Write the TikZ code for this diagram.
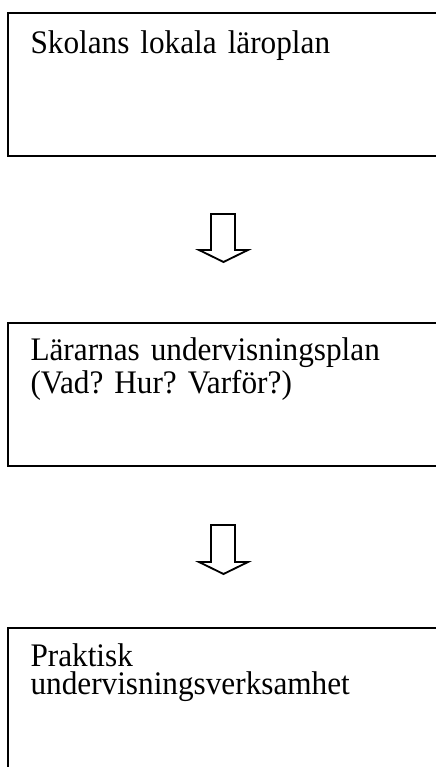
\documentclass[tikz,border=0pt]{standalone}
\usepackage{fontspec}
\setmainfont{Liberation Serif}[FakeStretch=0.95]
\frenchspacing
\lineskiplimit=-20pt\relax
\begin{document}
\begin{tikzpicture}[x=0.38pt,y=-0.38pt,
  box/.style={draw, line width=0.7pt, anchor=north west, inner sep=0pt, minimum width=172pt},
  txt/.style={anchor=base west, inner sep=0pt, text width=150pt, align=left,
    font=\fontsize{12.5}{11}\selectfont},
  blockarrow/.style={draw, line width=0.7pt, line join=miter}]
\useasboundingbox (0,0) rectangle (436,767);
\clip (0,0) rectangle (436,767);
\fill[white] (0,0) rectangle (436,767);
% boxes
\node[box, minimum height=54.3pt] (b1) at (7,12) {};
\node[box, minimum height=54.3pt] (b2) at (7,322) {};
\node[box, minimum height=76pt] (b3) at (7,627) {};
% texts
\node[txt] (t1) at (30,54) {Skolans lokala läroplan};
\node[txt] (t2) at (30,361) {Lärarnas undervisningsplan\\(Vad? Hur? Varför?)};
\node[txt] (t3) at (30,666) {Praktisk\\undervisningsverksamhet};
% block arrows
\draw[blockarrow] (211,214) -- (235,214) -- (235,250) -- (248,250) -- (223.5,262)
  -- (199,250) -- (211,250) -- cycle;
\draw[blockarrow] (211,525) -- (235,525) -- (235,562) -- (248,562) -- (223.5,574)
  -- (199,562) -- (211,562) -- cycle;
\end{tikzpicture}
\end{document}
